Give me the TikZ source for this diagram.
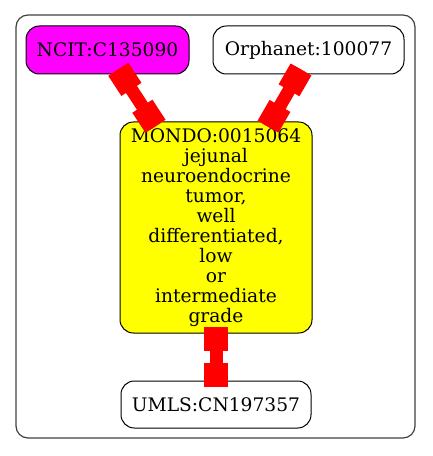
\documentclass[tikz,border=0pt]{standalone}
\usepackage{fontspec}
\setmainfont{DejaVu Serif}
\usetikzlibrary{calc}
\definecolor{gvmagenta}{RGB}{255,0,255}
\definecolor{gvyellow}{RGB}{255,255,0}
\definecolor{gvred}{RGB}{255,0,0}
\tikzset{
  gnode/.style={draw=black, line width=0.75pt, rounded corners=10pt, inner sep=0pt, align=center,
    font=\fontsize{14}{15}\selectfont},
  edgeline/.style={draw=gvred, line width=9.75pt, line cap=butt},
  boxend/.style={draw=gvred, line width=18pt, line cap=butt},
}
\begin{document}
\begin{tikzpicture}[x=0.75pt, y=-0.75pt]
\useasboundingbox (0,0) rectangle (432,456);
\draw[black!75, line width=0.9pt, rounded corners=9pt] (16,15) rectangle (415,438);
\node[gnode, fill=gvmagenta, minimum width=122.25pt, minimum height=36pt] (ncit) at (107.5,50) {NCIT:C135090};
\node[gnode, fill=white, minimum width=143.25pt, minimum height=36pt] (orph) at (308.5,50) {Orphanet:100077};
\node[gnode, fill=gvyellow, minimum width=144pt, minimum height=158.25pt] (mondo) at (216,227.5) {MONDO:0015064\\jejunal\\neuroendocrine\\tumor,\\well\\differentiated,\\low\\or\\intermediate\\grade};
\node[gnode, fill=white, minimum width=142.5pt, minimum height=35.25pt] (umls) at (216,404.5) {UMLS:CN197357};
% edge endpoints
\coordinate (e1a) at (118.3,69.3);
\coordinate (e1b) at (155.5,126.3);
\coordinate (e2a) at (301,69.5);
\coordinate (e2b) at (268,126.7);
\coordinate (e3a) at (216,327);
\coordinate (e3b) at (216,387);
\foreach \a/\b in {e1a/e1b, e2a/e2b, e3a/e3b}{
  \draw[edgeline] (\a) -- (\b);
  \draw[boxend] (\a) -- ($(\a)!18pt!(\b)$);
  \draw[boxend] (\b) -- ($(\b)!18pt!(\a)$);
}
\end{tikzpicture}
\end{document}
